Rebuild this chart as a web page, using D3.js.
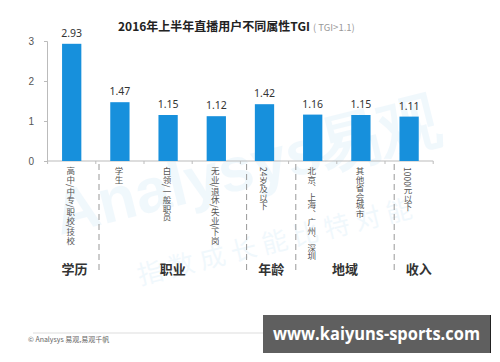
<!DOCTYPE html>
<html>
<head>
<meta charset="utf-8">
<script src="https://cdn.jsdelivr.net/npm/d3@7"></script>
<style>
  body { margin: 0; background: #fff; }
  svg { display: block; font-family: "Noto Sans CJK SC", "Noto Sans", sans-serif; }
</style>
</head>
<body>
<svg width="500" height="362"></svg>
<script>
(function(){
    'use strict';

    // data
    const categories = ["高中/中专/职校/技校", "学生", "白领/一般职员", "无业/退休/失业/下岗",
                        "24岁及以下", "北京、上海、广州、深圳", "其他省会城市", "1000元以下"];
    const values = [2.93, 1.47, 1.15, 1.12, 1.42, 1.16, 1.15, 1.11];
    const groups = ["学历", "职业", "年龄", "地域", "收入"];
    const groupSizes = [1, 3, 1, 2, 1];
    const yTicks = [0, 1, 2, 3];

    const svg = d3.select("svg");

    // faint watermark in the back
    const wm = svg.append("g").attr("opacity", 0.06).style("fill", "#1790dc");
    wm.append("text")
        .attr("transform", "translate(60,235) rotate(-14)")
        .style("font-size", "62px")
        .style("font-weight", "bold")
        .style("font-family", "Arial, Liberation Sans, sans-serif")
        .text("Analysys易观");
    wm.append("text")
        .attr("transform", "translate(140,285) rotate(-14)")
        .style("font-size", "26px")
        .style("letter-spacing", "6px")
        .text("指数成长能比特对能");

    const x = d3.scaleBand()
        .domain(d3.range(categories.length))
        .range([47.6, 433.2])
        .paddingInner(0.6)
        .paddingOuter(0.3);

    const y = d3.scaleLinear().domain([0, 3]).range([161, 41]);

    // y axis
    const yAxis = svg.append("g")
        .attr("transform", "translate(47,0)")
        .call(d3.axisLeft(y).tickValues(yTicks).tickFormat(d3.format("d")).tickSize(3).tickPadding(10));
    yAxis.select(".domain").attr("stroke", "#bbb");
    yAxis.selectAll(".tick line").attr("stroke", "#bbb");
    yAxis.selectAll(".tick text")
        .style("font-size", "10px")
        .style("fill", "#555")
        .style("font-family", "Liberation Sans, Arial, sans-serif");

    // x axis line with ticks at band boundaries
    const step = x.step();
    const x0 = x.range()[0];
    svg.append("line")
        .attr("x1", 47).attr("x2", x.range()[1])
        .attr("y1", y(0)).attr("y2", y(0))
        .attr("stroke", "#bbb");
    svg.selectAll(".xtick")
        .data(d3.range(categories.length + 1))
        .join("line")
        .attr("class", "xtick")
        .attr("x1", d => x0 + d * step).attr("x2", d => x0 + d * step)
        .attr("y1", y(0)).attr("y2", y(0) + 3)
        .attr("stroke", "#bbb");

    // bars
    svg.selectAll(".bar")
        .data(values)
        .join("rect")
        .attr("class", "bar")
        .attr("x", (d, i) => x(i))
        .attr("width", x.bandwidth())
        .attr("y", d => y(d))
        .attr("height", d => y(0) - y(d))
        .style("fill", "#1790dc");

    // value labels
    svg.selectAll(".val")
        .data(values)
        .join("text")
        .attr("class", "val")
        .attr("x", (d, i) => x(i) + x.bandwidth() / 2)
        .attr("y", d => y(d) - 7)
        .attr("text-anchor", "middle")
        .style("font-size", "10.5px")
        .style("fill", "#333")
        .style("font-family", "Noto Sans, sans-serif")
        .text(d => d.toFixed(2));

    // vertical category labels
    svg.selectAll(".cat")
        .data(categories)
        .join("text")
        .attr("class", "cat")
        .attr("x", (d, i) => x(i) + x.bandwidth() / 2 - 1)
        .attr("y", y(0) + 6)
        .style("writing-mode", "vertical-rl")
        .style("font-size", "8.5px")
        .style("fill", "#555")
        .text(d => d);

    // group separators and labels
    const g = d3.scaleLinear().domain([0, categories.length]).range([49.8, 443.4]);
    const bounds = [0];
    groupSizes.forEach(s => bounds.push(bounds[bounds.length - 1] + s));

    svg.selectAll(".sep")
        .data(bounds.slice(1, -1))
        .join("line")
        .attr("class", "sep")
        .attr("x1", d => g(d)).attr("x2", d => g(d))
        .attr("y1", y(0) + 3).attr("y2", 274)
        .attr("stroke", "#999")
        .attr("stroke-dasharray", "6,4");

    svg.selectAll(".grp")
        .data(groups)
        .join("text")
        .attr("class", "grp")
        .attr("x", (d, i) => (g(bounds[i]) + g(bounds[i + 1])) / 2)
        .attr("y", 274)
        .attr("text-anchor", "middle")
        .style("font-size", "13px")
        .style("font-weight", "bold")
        .style("fill", "#333")
        .text(d => d);

    // title
    const title = svg.append("text").attr("x", 118).attr("y", 31);
    title.append("tspan")
        .style("font-size", "12px")
        .style("font-weight", "bold")
        .style("fill", "#222")
        .text("2016年上半年直播用户不同属性TGI");
    title.append("tspan")
        .attr("dx", 3)
        .style("font-size", "9.5px")
        .style("fill", "#999")
        .text("( TGI>1.1)");

    // footer
    svg.append("line")
        .attr("x1", 33).attr("x2", 470)
        .attr("y1", 333).attr("y2", 333)
        .attr("stroke", "#ddd");
    svg.append("text")
        .attr("x", 28).attr("y", 342)
        .style("font-size", "7px")
        .style("fill", "#666")
        .text("© Analysys 易观,易观千帆");

    // site watermark box
    svg.append("rect")
        .attr("x", 263).attr("y", 315)
        .attr("width", 227).attr("height", 38)
        .style("fill", "#5f5f5f");
    svg.append("line")
        .attr("x1", 490.5).attr("x2", 490.5)
        .attr("y1", 315).attr("y2", 353)
        .attr("stroke", "#222");
    svg.append("text")
        .attr("x", 273).attr("y", 340)
        .attr("textLength", 207)
        .attr("lengthAdjust", "spacingAndGlyphs")
        .style("font-family", "Open Sans, sans-serif")
        .style("font-size", "17px")
        .style("font-weight", "bold")
        .style("fill", "#fff")
        .text("www.kaiyuns-sports.com");
})();
</script>
</body>
</html>
